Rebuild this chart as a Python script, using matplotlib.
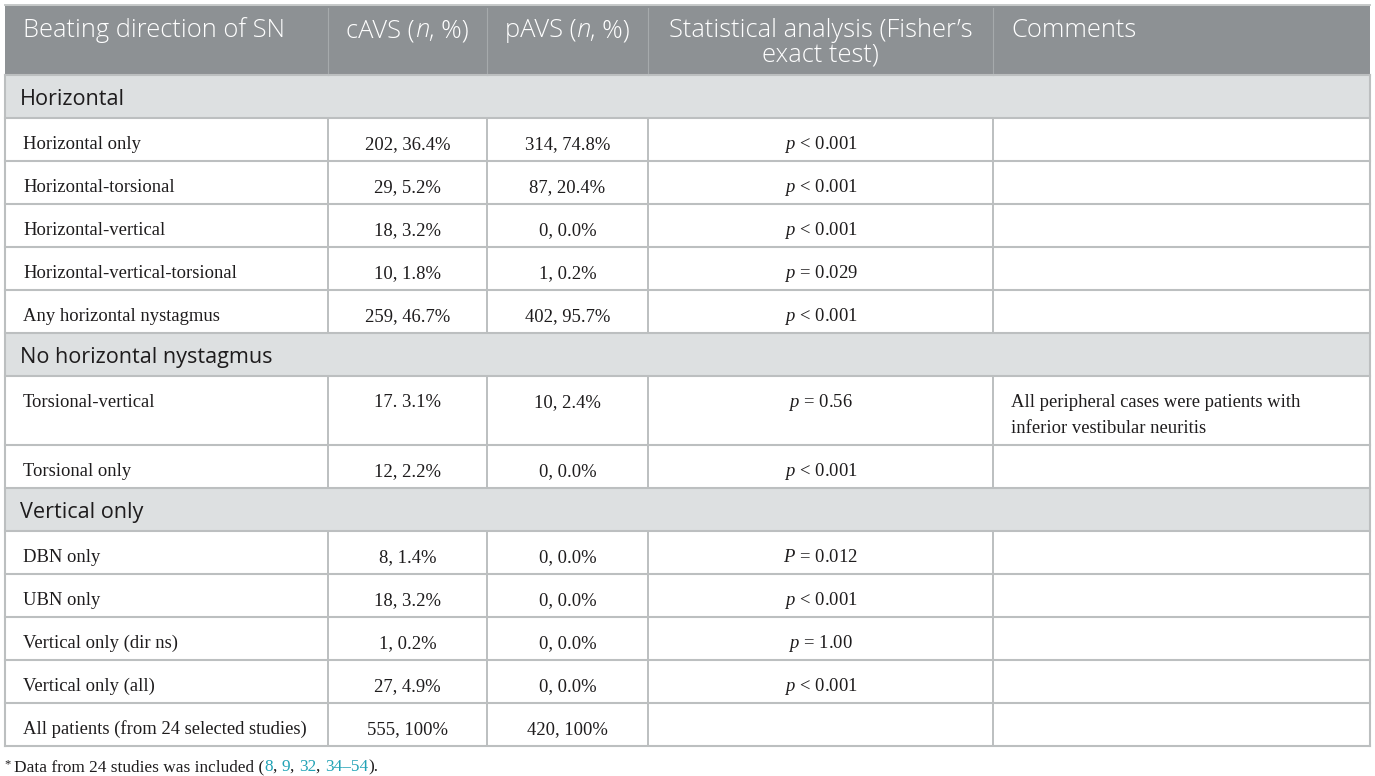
import matplotlib.pyplot as plt
from matplotlib.patches import Rectangle

plt.rcParams["mathtext.fontset"] = "custom"
plt.rcParams["mathtext.rm"] = "Liberation Serif"
plt.rcParams["mathtext.it"] = "Liberation Serif:italic"

# table content
sections = ["Horizontal", "No horizontal nystagmus", "Vertical only"]
row_section = [0, 0, 0, 0, 0, 1, 1, 2, 2, 2, 2, 2]
row_labels = [
    "Horizontal only", "Horizontal-torsional", "Horizontal-vertical",
    "Horizontal-vertical-torsional", "Any horizontal nystagmus",
    "Torsional-vertical", "Torsional only",
    "DBN only", "UBN only", "Vertical only (dir ns)", "Vertical only (all)",
    "All patients (from 24 selected studies)",
]
cavs = ["202, 36.4%", "29, 5.2%", "18, 3.2%", "10, 1.8%", "259, 46.7%",
        "17. 3.1%", "12, 2.2%",
        "8, 1.4%", "18, 3.2%", "1, 0.2%", "27, 4.9%", "555, 100%"]
pavs = ["314, 74.8%", "87, 20.4%", "0, 0.0%", "1, 0.2%", "402, 95.7%",
        "10, 2.4%", "0, 0.0%",
        "0, 0.0%", "0, 0.0%", "0, 0.0%", "0, 0.0%", "420, 100%"]
p_values = [r"$p\,<\,0.001$", r"$p\,<\,0.001$", r"$p\,<\,0.001$", r"$p\,=\,0.029$",
            r"$p\,<\,0.001$",
            r"$p\,=\,0.56$", r"$p\,<\,0.001$",
            r"$P\,=\,0.012$", r"$p\,<\,0.001$", r"$p\,=\,1.00$", r"$p\,<\,0.001$", ""]
comments = ["", "", "", "", "",
            "All peripheral cases were patients with\ninferior vestibular neuritis", "",
            "", "", "", "", ""]
header_cells = [
    [("Beating direction of SN", "normal")],
    [("cAVS (", "normal"), ("n", "italic"), (", %)", "normal")],
    [("pAVS (", "normal"), ("n", "italic"), (", %)", "normal")],
    [("Statistical analysis (Fisher\u2019s", "normal")],
    [("Comments", "normal")],
]
header_line2 = ["", "", "", "exact test)", ""]
footnote_runs = [("Data from 24 studies was included (", "k"), ("8", "t"), (", ", "k"),
                 ("9", "t"), (", ", "k"), ("32", "t"), (", ", "k"),
                 ("34\u201354", "t"), (").", "k")]

# layout
W, H = 1375, 776
col_x = [5, 328, 487, 648, 993, 1370]
top = 5
header_h = 70
band_h = 43
row_h = 43
line_gap = 26

HEAD_BG = "#8d9194"
BAND_BG = "#dde0e1"
GRID = "#bcbfc0"
TEAL = "#22a3b6"
INK = "#1e1c1d"
SANS = "Open Sans"
SERIF = "Liberation Serif"
HEAD_SIZE = 18.4
BAND_SIZE = 15.6
SERIF_SIZE = 13.4

fig = plt.figure(figsize=(W / 100, H / 100), dpi=100)
ax = fig.add_axes([0, 0, 1, 1])
ax.set_xlim(0, W)
ax.set_ylim(H, 0)
ax.axis("off")
renderer = fig.canvas.get_renderer()


def text_width(s, **kw):
    t = ax.text(0, 0, s + "|", **kw)
    t2 = ax.text(0, 0, "|", **kw)
    w = t.get_window_extent(renderer).width - t2.get_window_extent(renderer).width
    t.remove()
    t2.remove()
    return w


def draw_runs(x, y, runs, ha="left", **kw):
    widths = []
    for s, style in runs:
        opts = dict(kw)
        opts.update(style)
        widths.append(text_width(s, **opts))
    start = x - sum(widths) / 2 if ha == "center" else x
    for (s, style), w in zip(runs, widths):
        opts = dict(kw)
        opts.update(style)
        ax.text(start, y, s, va="baseline", ha="left", zorder=5, **opts)
        start += w


# header
ax.add_patch(Rectangle((col_x[0], top), col_x[-1] - col_x[0], header_h,
                       facecolor=HEAD_BG, edgecolor="none", zorder=1))
ax.plot([col_x[0], col_x[-1]], [top, top], color="#c6c9c9", lw=1.4, zorder=3)
for cx in col_x[1:-1]:
    ax.plot([cx, cx], [top + 3, top + header_h], color="#a6aaac", lw=0.8, zorder=3)

head_kw = dict(family=SANS, fontsize=HEAD_SIZE, color="white", fontweight="light")
for j, runs in enumerate(header_cells):
    runs = [(s, {"style": st}) for s, st in runs]
    if j == 0:
        draw_runs(23, top + 32, runs, **head_kw)
    elif j == 4:
        draw_runs(col_x[4] + 18, top + 32, runs, **head_kw)
    else:
        cxm = (col_x[j] + col_x[j + 1]) / 2
        draw_runs(cxm, top + 32, runs, ha="center", **head_kw)
        if header_line2[j]:
            draw_runs(cxm, top + 57, [(header_line2[j], {})], ha="center", **head_kw)

# body rows
y = top + header_h
cur = None
hlines = [y]
body_kw = dict(family=SERIF, fontsize=SERIF_SIZE, color=INK)
for i, label in enumerate(row_labels):
    if row_section[i] != cur:
        cur = row_section[i]
        ax.add_patch(Rectangle((col_x[0], y), col_x[-1] - col_x[0], band_h,
                               facecolor=BAND_BG, edgecolor="none", zorder=1))
        ax.text(20, y + 30, sections[cur], family=SANS, fontsize=BAND_SIZE,
                color=INK, va="baseline", zorder=5)
        y += band_h
        hlines.append(y)
    lines = comments[i].split("\n") if comments[i] else [""]
    h = row_h + line_gap * (len(lines) - 1)
    base = y + 31
    ax.text(23, base, label, va="baseline", zorder=5, **body_kw)
    ax.text((col_x[1] + col_x[2]) / 2, base, cavs[i], ha="center", va="baseline",
            zorder=5, **body_kw)
    ax.text((col_x[2] + col_x[3]) / 2, base, pavs[i], ha="center", va="baseline",
            zorder=5, **body_kw)
    if p_values[i]:
        ax.text((col_x[3] + col_x[4]) / 2, base, p_values[i], ha="center",
                va="baseline", zorder=5, **body_kw)
    for k, ln in enumerate(lines):
        if ln:
            ax.text(col_x[4] + 18, base + k * line_gap, ln, va="baseline",
                    zorder=5, **body_kw)
    for cx in col_x[1:-1]:
        ax.plot([cx, cx], [y, y + h], color=GRID, lw=1.4, zorder=3)
    y += h
    hlines.append(y)

for hy in hlines:
    ax.plot([col_x[0], col_x[-1]], [hy, hy], color=GRID, lw=1.5, zorder=3)
ax.plot([col_x[0], col_x[0]], [top + header_h, y], color=GRID, lw=1.5, zorder=3)
ax.plot([col_x[-1], col_x[-1]], [top + header_h, y], color=GRID, lw=1.5, zorder=3)

# footnote
foot_y = y + 25
ax.text(4, foot_y - 4, "*", family=SERIF, fontsize=9, color=INK,
        va="baseline", zorder=5)
foot_kw = dict(family=SERIF, fontsize=12.4)
draw_runs(14, foot_y, [(s, {"color": TEAL if c == "t" else INK})
                       for s, c in footnote_runs], **foot_kw)

fig.savefig("out.png", dpi=100)
